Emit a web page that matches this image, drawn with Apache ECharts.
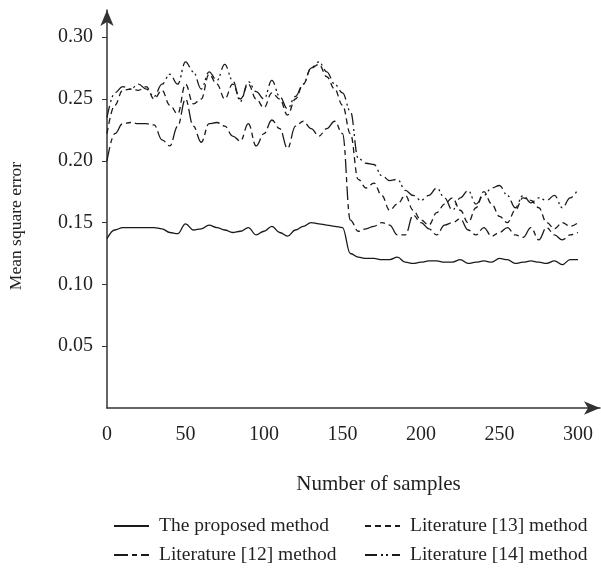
<!DOCTYPE html>
<html>
<head>
<meta charset="utf-8">
<script src="https://cdn.jsdelivr.net/npm/echarts@6/dist/echarts.min.js"></script>
<style>
  html, body { margin: 0; padding: 0; background: #fff; }
  #chart { width: 601px; height: 571px; }
</style>
</head>
<body>
<div id="chart"></div>
<script>
const chart = echarts.init(document.getElementById('chart'));

const FONT = 'Liberation Serif, DejaVu Serif, serif';
const INK  = '#231f20';

// sample positions (number of samples)
const X = [0, 5, 10, 15, 20, 25, 30, 35, 40, 45, 50, 55, 60, 65, 70, 75, 80, 85, 90, 95,
           100, 105, 110, 115, 120, 125, 130, 135, 140, 145, 150, 155, 160, 165, 170, 175, 180, 185, 190, 195,
           200, 205, 210, 215, 220, 225, 230, 235, 240, 245, 250, 255, 260, 265, 270, 275, 280, 285, 290, 295, 300];

const X_TICKS = [0, 50, 100, 150, 200, 250, 300];
const Y_TICKS = [0.05, 0.10, 0.15, 0.20, 0.25, 0.30];

const NAMES = ['The proposed method', 'Literature [12] method', 'Literature [13] method', 'Literature [14] method'];

const proposed = [0.137, 0.144, 0.146, 0.146, 0.146, 0.146, 0.146, 0.145, 0.142, 0.141,
                  0.149, 0.144, 0.145, 0.148, 0.146, 0.144, 0.142, 0.143, 0.146, 0.140,
                  0.143, 0.147, 0.142, 0.139, 0.144, 0.147, 0.150, 0.149, 0.148, 0.147,
                  0.146, 0.125, 0.122, 0.121, 0.121, 0.120, 0.120, 0.122, 0.118, 0.117,
                  0.118, 0.119, 0.119, 0.118, 0.118, 0.120, 0.117, 0.118, 0.119, 0.118,
                  0.121, 0.120, 0.117, 0.118, 0.119, 0.118, 0.117, 0.119, 0.116, 0.120, 0.120];

const lit12 = [0.200, 0.222, 0.230, 0.231, 0.230, 0.230, 0.229, 0.217, 0.212, 0.228,
               0.250, 0.228, 0.215, 0.230, 0.231, 0.228, 0.220, 0.216, 0.230, 0.212,
               0.222, 0.233, 0.226, 0.210, 0.228, 0.232, 0.226, 0.220, 0.226, 0.232,
               0.222, 0.152, 0.143, 0.145, 0.147, 0.150, 0.148, 0.140, 0.140, 0.156,
               0.150, 0.145, 0.140, 0.148, 0.150, 0.153, 0.144, 0.140, 0.146, 0.139,
               0.142, 0.146, 0.140, 0.138, 0.146, 0.136, 0.146, 0.140, 0.136, 0.140, 0.142];

const lit13 = [0.222, 0.245, 0.257, 0.258, 0.257, 0.260, 0.250, 0.257, 0.245, 0.238,
               0.262, 0.246, 0.250, 0.270, 0.262, 0.250, 0.262, 0.250, 0.262, 0.250,
               0.243, 0.255, 0.250, 0.237, 0.250, 0.262, 0.275, 0.278, 0.268, 0.258,
               0.245, 0.222, 0.185, 0.178, 0.182, 0.172, 0.160, 0.165, 0.172, 0.160,
               0.152, 0.148, 0.158, 0.165, 0.170, 0.160, 0.150, 0.162, 0.175, 0.165,
               0.155, 0.150, 0.160, 0.170, 0.168, 0.162, 0.150, 0.145, 0.150, 0.147, 0.150];

const lit14 = [0.235, 0.255, 0.260, 0.258, 0.262, 0.258, 0.252, 0.262, 0.270, 0.262,
               0.280, 0.272, 0.258, 0.272, 0.265, 0.278, 0.265, 0.248, 0.264, 0.256,
               0.250, 0.265, 0.252, 0.242, 0.252, 0.262, 0.275, 0.280, 0.272, 0.262,
               0.255, 0.240, 0.202, 0.198, 0.197, 0.188, 0.184, 0.185, 0.176, 0.172,
               0.168, 0.172, 0.178, 0.170, 0.160, 0.170, 0.176, 0.165, 0.172, 0.178,
               0.180, 0.172, 0.162, 0.172, 0.166, 0.170, 0.168, 0.172, 0.162, 0.170, 0.177];

const DASHES = ['solid', [14, 4, 5, 4], [6, 4], [12, 4, 2, 3, 2, 4]];

const pairs = vals => X.map((x, i) => [x, vals[i]]);

const mkSeries = (name, vals, dash) => ({
    name, type: 'line', data: pairs(vals),
    showSymbol: false, symbol: 'circle',
    smooth: 0.4, smoothMonotone: 'x',
    lineStyle: { color: '#1a1a1a', width: 1.3, type: dash },
    itemStyle: { color: '#1a1a1a' }
});

// legend: line icon only, symbol hidden
const legendBase = {
    orient: 'vertical', itemWidth: 35, itemHeight: 14, itemGap: 9, height: 70,
    itemStyle: { opacity: 0 },
    textStyle: { fontFamily: FONT, fontSize: 19.5, color: INK, padding: [0, 0, 0, 5] }
};

chart.setOption({
    backgroundColor: '#fff',
    animation: false,
    textStyle: { fontFamily: FONT },
    grid: { left: 107, right: 1, top: 10, bottom: 163, outerBoundsMode: 'none' },
    xAxis: {
        type: 'value', min: 0, max: 314,
        name: 'Number of samples', nameLocation: 'middle', nameGap: 66,
        nameTextStyle: { fontFamily: FONT, fontSize: 21, color: INK, padding: [0, 0, 0, 50] },
        axisLine: { lineStyle: { color: '#333', width: 1.5 }, symbol: ['none', 'arrow'], symbolSize: [10, 16] },
        axisTick: { show: false },
        axisLabel: { customValues: X_TICKS, margin: 17, fontFamily: FONT, fontSize: 20, color: INK },
        splitLine: { show: false }
    },
    yAxis: {
        type: 'value', min: 0, max: 0.322,
        name: 'Mean square error', nameLocation: 'middle', nameGap: 82, nameRotate: 90,
        nameTextStyle: { fontFamily: FONT, fontSize: 17.5, color: INK, padding: [0, 34, 0, 0] },
        axisLine: { show: true, lineStyle: { color: '#333', width: 1.5 }, symbol: ['none', 'arrow'], symbolSize: [10, 16] },
        axisTick: { show: true, customValues: Y_TICKS, length: 5, lineStyle: { color: '#333' } },
        axisLabel: {
            customValues: Y_TICKS, margin: 14, fontFamily: FONT, fontSize: 20, color: INK,
            formatter: v => v.toFixed(2)
        },
        splitLine: { show: false }
    },
    legend: [
        { ...legendBase, left: 108, top: 511, data: [NAMES[0], NAMES[1]] },
        { ...legendBase, left: 359, top: 511, data: [NAMES[2], NAMES[3]] }
    ],
    series: [
        mkSeries(NAMES[0], proposed, DASHES[0]),
        mkSeries(NAMES[1], lit12, DASHES[1]),
        mkSeries(NAMES[2], lit13, DASHES[2]),
        mkSeries(NAMES[3], lit14, DASHES[3])
    ]
});

window.addEventListener('resize', () => chart.resize());
</script>
</body>
</html>
